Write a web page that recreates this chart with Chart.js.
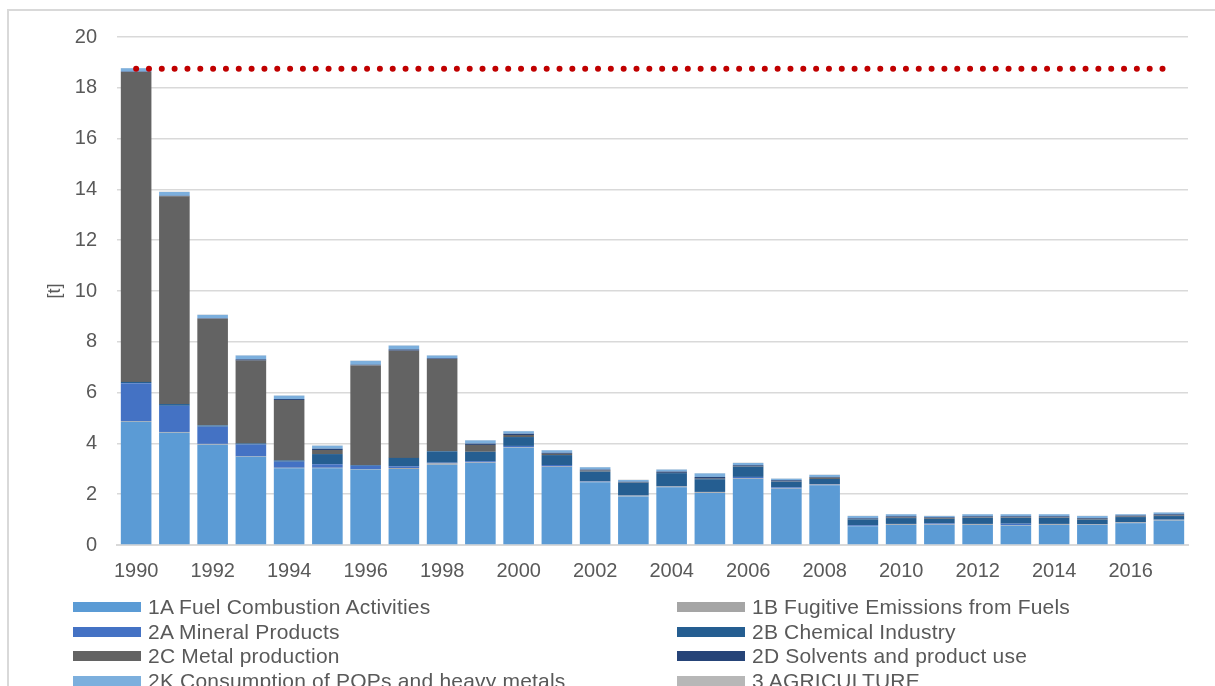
<!DOCTYPE html>
<html>
<head>
<meta charset="utf-8">
<script src="https://cdn.jsdelivr.net/npm/chart.js@4/dist/chart.umd.min.js"></script>
<style>
  html, body { margin: 0; padding: 0; width: 1215px; height: 686px; overflow: hidden; background: #fff; }
  #frame { position: absolute; left: 7px; top: 9px; width: 1400px; height: 900px; border: 2px solid #D9D9D9; box-sizing: border-box; }
  #wrap { position: absolute; left: 0; top: 0; width: 1215px; height: 686px; }
  #legend { position: absolute; left: 0; top: 0; width: 1215px; height: 686px; pointer-events: none;
            font-family: "Liberation Sans", Arial, sans-serif; font-size: 21px; letter-spacing: 0.2px; color: #595959; }
  .item { position: absolute; height: 24px; display: flex; align-items: center; white-space: nowrap; }
  .sw { width: 68px; height: 10px; margin-right: 7px; }
</style>
</head>
<body>
<div id="frame"></div>
<div id="wrap"><canvas id="c" width="1215" height="686"></canvas></div>
<div id="legend"></div>
<script>
const years = ['1990','1991','1992','1993','1994','1995','1996','1997','1998','1999','2000','2001','2002','2003','2004','2005','2006','2007','2008','2009','2010','2011','2012','2013','2014','2015','2016','2017'];
const yTicks = [0, 2, 4, 6, 8, 10, 12, 14, 16, 18, 20];

const fuelCombustion1A = [4.85,4.42,3.95,3.47,3.02,3.02,2.97,2.99,3.16,3.23,3.83,3.07,2.47,1.91,2.27,2.05,2.60,2.21,2.35,0.74,0.79,0.79,0.79,0.76,0.79,0.79,0.86,0.96];
const fugitive1B       = [0.03,0.03,0.03,0.02,0.02,0.02,0.02,0.04,0.05,0.02,0.02,0.02,0.02,0.03,0.03,0.03,0.02,0.02,0.03,0.01,0.03,0.02,0.03,0.02,0.03,0.02,0.03,0.03];
const mineral2A        = [1.49,1.03,0.68,0.47,0.24,0.14,0.13,0.07,0.03,0.05,0.05,0.06,0.02,0.01,0.01,0.01,0.06,0.04,0.02,0.03,0.01,0.04,0.01,0.06,0.01,0.01,0.01,0.01];
const chemical2B       = [0.05,0.07,0.05,0.04,0.05,0.40,0.03,0.33,0.45,0.37,0.35,0.39,0.38,0.50,0.52,0.50,0.40,0.22,0.20,0.23,0.23,0.18,0.24,0.23,0.24,0.18,0.20,0.14];
const metal2C          = [12.20,8.18,4.20,3.26,2.38,0.16,3.92,4.22,3.63,0.27,0.08,0.05,0.04,0.01,0.01,0.02,0.01,0.01,0.05,0.01,0.02,0.03,0.02,0.02,0.02,0.03,0.02,0.02];
const solvents2D       = [0.02,0.02,0.02,0.05,0.04,0.05,0.03,0.05,0.03,0.05,0.05,0.04,0.04,0.03,0.05,0.07,0.05,0.05,0.03,0.03,0.05,0.03,0.04,0.04,0.04,0.03,0.04,0.05];
const pops2K           = [0.13,0.15,0.13,0.15,0.13,0.12,0.15,0.15,0.11,0.13,0.10,0.10,0.09,0.07,0.08,0.14,0.09,0.06,0.08,0.09,0.08,0.05,0.08,0.08,0.08,0.08,0.05,0.07];
const agriculture3     = [0.01,0.01,0.01,0.01,0.01,0.01,0.01,0.01,0.01,0.01,0.01,0.01,0.01,0.01,0.01,0.01,0.01,0.01,0.01,0.01,0.01,0.01,0.01,0.01,0.01,0.01,0.01,0.01];
const level1990        = [18.75,18.75,18.75,18.75,18.75,18.75,18.75,18.75,18.75,18.75,18.75,18.75,18.75,18.75,18.75,18.75,18.75,18.75,18.75,18.75,18.75,18.75,18.75,18.75,18.75,18.75,18.75,18.75];

const seriesNames = ['1A Fuel Combustion Activities','1B Fugitive Emissions from Fuels','2A Mineral Products','2B Chemical Industry','2C Metal production','2D Solvents and product use','2K Consumption of POPs and heavy metals','3 AGRICULTURE'];
const seriesData = [fuelCombustion1A, fugitive1B, mineral2A, chemical2B, metal2C, solvents2D, pops2K, agriculture3];
const seriesColors = ['#5B9BD5','#A5A5A5','#4472C4','#255E91','#636363','#264478','#7CAFDD','#B7B7B7'];

const datasets = seriesNames.map((n, i) => ({
  type: 'bar', label: n, data: seriesData[i], backgroundColor: seriesColors[i],
  borderWidth: 0, stack: 'emis', categoryPercentage: 1.0, barPercentage: 0.8, order: 2
}));
datasets.push({
  type: 'line', label: '1990 level', data: level1990, stack: 'line',
  borderColor: '#C00000', borderWidth: 6, borderDash: [0, 12.83], borderCapStyle: 'round',
  pointRadius: 0, fill: false, tension: 0, order: 1
});

const font = { family: '"Liberation Sans", Arial, sans-serif', size: 20 };

new Chart(document.getElementById('c'), {
  data: { labels: years, datasets },
  options: {
    responsive: false, animation: false,
    layout: { padding: { left: 0, right: 27, top: 37, bottom: 96 } },
    plugins: { legend: { display: false }, tooltip: { enabled: false } },
    scales: {
      x: {
        stacked: true,
        grid: { display: false, drawTicks: false },
        border: { display: true, color: '#D9D9D9', width: 2 },
        ticks: { autoSkip: false, maxRotation: 0, minRotation: 0, padding: 14, color: '#595959', font,
                 callback: function(v, i) { return i % 2 === 0 ? years[i] : ''; } },
        afterFit: s => { s.height = 45; }
      },
      y: {
        stacked: true, min: 0, max: 20,
        afterBuildTicks: s => { s.ticks = yTicks.map(v => ({ value: v })); },
        grid: { color: '#D9D9D9', lineWidth: 1.5, drawTicks: false },
        border: { display: false },
        ticks: { padding: 20, color: '#595959', font },
        title: { display: true, text: '[t]', color: '#595959', font: { family: '"Liberation Sans", Arial, sans-serif', size: 18 }, padding: { top: 44, bottom: 0 } },
        afterFit: s => { s.width = 117; }
      }
    }
  }
});

const legend = document.getElementById('legend');
const cols = [73, 677];
const rows = [607, 631.7, 656, 680.7];
seriesNames.forEach((n, i) => {
  const d = document.createElement('div');
  d.className = 'item';
  d.style.left = cols[i % 2] + 'px';
  d.style.top = (rows[Math.floor(i / 2)] - 12) + 'px';
  const sw = document.createElement('div');
  sw.className = 'sw'; sw.style.background = seriesColors[i];
  const t = document.createElement('span'); t.textContent = n;
  d.appendChild(sw); d.appendChild(t);
  legend.appendChild(d);
});
</script>
</body>
</html>
